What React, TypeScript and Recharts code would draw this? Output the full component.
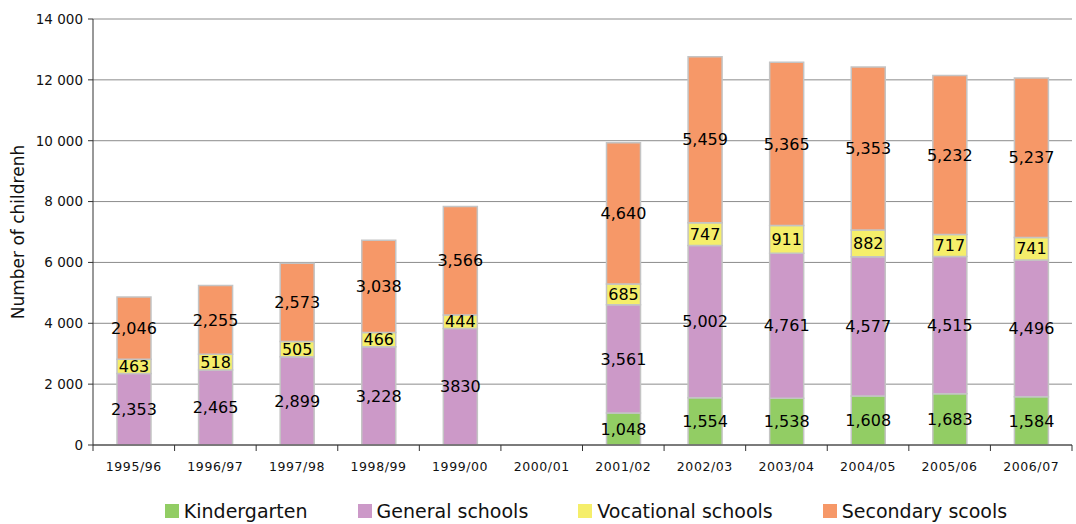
import { BarChart, Bar, XAxis, YAxis, CartesianGrid, LabelList, Legend } from "recharts";

const years = ["1995/96", "1996/97", "1997/98", "1998/99", "1999/00", "2000/01", "2001/02", "2002/03", "2003/04", "2004/05", "2005/06", "2006/07"];
const kindergarten = [null, null, null, null, null, null, 1048, 1554, 1538, 1608, 1683, 1584];
const general = [2353, 2465, 2899, 3228, 3830, null, 3561, 5002, 4761, 4577, 4515, 4496];
const vocational = [463, 518, 505, 466, 444, null, 685, 747, 911, 882, 717, 741];
const secondary = [2046, 2255, 2573, 3038, 3566, null, 4640, 5459, 5365, 5353, 5232, 5237];
// years where the source printed the general schools value without a separator
const plainGeneralLabel = ["1999/00"];
const yTicks = [0, 2000, 4000, 6000, 8000, 10000, 12000, 14000];
const edgeTicks = years.map((_, i) => i).concat(years.length);

const fmt = (v: number | null) => (v == null ? "" : v.toLocaleString("en-US"));

const data = years.map((year, i) => ({
    idx: i + 0.5,
    year,
    kindergarten: kindergarten[i],
    general: general[i],
    vocational: vocational[i],
    secondary: secondary[i],
    kLabel: fmt(kindergarten[i]),
    gLabel: plainGeneralLabel.includes(year) ? String(general[i]) : fmt(general[i]),
    vLabel: fmt(vocational[i]),
    sLabel: fmt(secondary[i]),
}));

const series = [
    { key: "kindergarten", label: "kLabel", name: "Kindergarten", color: "#92cd64" },
    { key: "general", label: "gLabel", name: "General schools", color: "#cc99c8" },
    { key: "vocational", label: "vLabel", name: "Vocational schools", color: "#f5ee6a" },
    { key: "secondary", label: "sLabel", name: "Secondary scools", color: "#f69868" },
];

const FONT = "'DejaVu Sans', sans-serif";

const LegendBox = () => (
    <div style={{ display: "flex", justifyContent: "center", gap: 50, fontFamily: FONT, fontSize: 19, color: "#111", paddingTop: 24, paddingLeft: 100 }}>
        {series.map((s) => (
            <div key={s.key} style={{ display: "flex", alignItems: "center" }}>
                <span style={{ display: "inline-block", width: 14, height: 14, background: s.color, marginRight: 5 }} />
                {s.name}
            </div>
        ))}
    </div>
);

export default function App() {
    return (
        <div style={{ position: "absolute", left: 0, top: 0, background: "#fff" }}>
            <BarChart width={1076} height={524} data={data} margin={{ top: 19, right: 4, left: 0, bottom: 8 }}>
                <CartesianGrid vertical={false} stroke="#8c8c8c" xAxisId="b" />
                <XAxis
                    xAxisId="a"
                    type="number"
                    dataKey="idx"
                    domain={[0, years.length]}
                    ticks={edgeTicks}
                    tickFormatter={() => ""}
                    height={1}
                    stroke="#333"
                    tickSize={6}
                />
                <XAxis
                    xAxisId="b"
                    dataKey="year"
                    axisLine={false}
                    tickLine={false}
                    height={30}
                    interval={0}
                    tick={{ fill: "#111", fontSize: 12.5, fontFamily: FONT, letterSpacing: 0.6 }}
                    dy={8}
                />
                <YAxis
                    width={93}
                    domain={[0, 14000]}
                    ticks={yTicks}
                    interval={0}
                    stroke="#333"
                    tickSize={5}
                    tickFormatter={(v: number) => (v >= 1000 ? `${Math.floor(v / 1000)} ${String(v % 1000).padStart(3, "0")}` : String(v))}
                    tick={{ fill: "#111", fontSize: 13.5, fontFamily: FONT }}
                    dx={-3}
                    label={{ value: "Number of childrenh", angle: -90, position: "insideLeft", dx: 13, style: { fontSize: 17, fontFamily: FONT, fill: "#111", textAnchor: "middle" } }}
                />
                <Legend verticalAlign="bottom" height={40} content={<LegendBox />} />
                {series.map((s) => (
                    <Bar
                        key={s.key}
                        xAxisId="b"
                        dataKey={s.key}
                        name={s.name}
                        stackId="a"
                        fill={s.color}
                        stroke="#c4c4c4"
                        strokeWidth={1.5}
                        barSize={34}
                        isAnimationActive={false}
                    >
                        <LabelList dataKey={s.label} position="center" fill="#000" fontSize={16} fontFamily={FONT} />
                    </Bar>
                ))}
            </BarChart>
        </div>
    );
}
